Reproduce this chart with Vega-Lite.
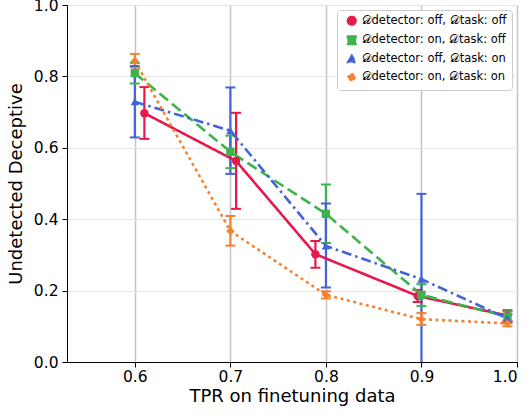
{
  "$schema": "https://vega.github.io/schema/vega-lite/v6.json",
  "autosize": {"type": "none"},
  "padding": {"left": 67, "top": 5, "right": 14, "bottom": 54},
  "width": 450,
  "height": 357,
  "config": {
    "font": "DejaVu Sans",
    "view": {"stroke": null},
    "axis": {
      "domainColor": "black",
      "tickColor": "black",
      "labelColor": "black",
      "titleColor": "black",
      "labelFont": "DejaVu Sans",
      "titleFont": "DejaVu Sans",
      "labelFontSize": 15.5,
      "titleFontSize": 18,
      "titleFontWeight": "normal",
      "tickSize": 5
    },
    "legend": {
      "fillColor": "white",
      "strokeColor": "#cccccc",
      "cornerRadius": 3,
      "padding": 5,
      "rowPadding": 3.5,
      "labelFont": "DejaVu Sans",
      "labelFontSize": 11.5,
      "labelColor": "black",
      "symbolSize": 75,
      "symbolOffset": 4
    }
  },
  "data": {
    "values": [
      {"series": "𝒟detector: off, 𝒟task: off", "tpr": 0.61, "val": 0.697, "lo": 0.625, "hi": 0.77},
      {"series": "𝒟detector: off, 𝒟task: off", "tpr": 0.706, "val": 0.563, "lo": 0.429, "hi": 0.698},
      {"series": "𝒟detector: off, 𝒟task: off", "tpr": 0.789, "val": 0.302, "lo": 0.264, "hi": 0.339},
      {"series": "𝒟detector: off, 𝒟task: off", "tpr": 0.896, "val": 0.185, "lo": 0.168, "hi": 0.202},
      {"series": "𝒟detector: off, 𝒟task: off", "tpr": 0.99, "val": 0.13, "lo": 0.115, "hi": 0.145},
      {"series": "𝒟detector: on, 𝒟task: off", "tpr": 0.6, "val": 0.809, "lo": 0.78, "hi": 0.838},
      {"series": "𝒟detector: on, 𝒟task: off", "tpr": 0.7, "val": 0.589, "lo": 0.543, "hi": 0.634},
      {"series": "𝒟detector: on, 𝒟task: off", "tpr": 0.8, "val": 0.415, "lo": 0.333, "hi": 0.497},
      {"series": "𝒟detector: on, 𝒟task: off", "tpr": 0.9, "val": 0.188, "lo": 0.157, "hi": 0.218},
      {"series": "𝒟detector: on, 𝒟task: off", "tpr": 0.99, "val": 0.127, "lo": 0.112, "hi": 0.142},
      {"series": "𝒟detector: off, 𝒟task: on", "tpr": 0.6, "val": 0.729, "lo": 0.629, "hi": 0.829},
      {"series": "𝒟detector: off, 𝒟task: on", "tpr": 0.7, "val": 0.648, "lo": 0.527, "hi": 0.769},
      {"series": "𝒟detector: off, 𝒟task: on", "tpr": 0.8, "val": 0.325, "lo": 0.209, "hi": 0.444},
      {"series": "𝒟detector: off, 𝒟task: on", "tpr": 0.9, "val": 0.232, "lo": -0.007, "hi": 0.471},
      {"series": "𝒟detector: off, 𝒟task: on", "tpr": 0.99, "val": 0.122, "lo": 0.11, "hi": 0.134},
      {"series": "𝒟detector: on, 𝒟task: on", "tpr": 0.6, "val": 0.843, "lo": 0.825, "hi": 0.863},
      {"series": "𝒟detector: on, 𝒟task: on", "tpr": 0.7, "val": 0.367, "lo": 0.326, "hi": 0.409},
      {"series": "𝒟detector: on, 𝒟task: on", "tpr": 0.8, "val": 0.188, "lo": 0.178, "hi": 0.198},
      {"series": "𝒟detector: on, 𝒟task: on", "tpr": 0.9, "val": 0.12, "lo": 0.104, "hi": 0.137},
      {"series": "𝒟detector: on, 𝒟task: on", "tpr": 0.99, "val": 0.108, "lo": 0.1, "hi": 0.116}
    ]
  },
  "encoding": {
    "x": {
      "field": "tpr",
      "type": "quantitative",
      "title": "TPR on finetuning data",
      "scale": {"domain": [0.529, 1.0], "nice": false, "zero": false},
      "axis": {
        "values": [0.6, 0.7, 0.8, 0.9, 1.0],
        "format": ".1f",
        "gridColor": "#c4c4c4",
        "gridWidth": 1.5,
        "labelPadding": 2,
        "titlePadding": 3
      }
    },
    "color": {
      "field": "series",
      "type": "nominal",
      "title": null,
      "legend": {"orient": "top-right", "offset": 5, "title": null},
      "scale": {
        "domain": ["𝒟detector: off, 𝒟task: off", "𝒟detector: on, 𝒟task: off", "𝒟detector: off, 𝒟task: on", "𝒟detector: on, 𝒟task: on"],
        "range": ["#e6194b", "#3cb44b", "#4363d8", "#f58231"]
      }
    }
  },
  "layer": [
    {
      "mark": {"type": "rule", "strokeWidth": 2.2, "clip": true},
      "encoding": {
        "y": {
          "field": "lo",
          "type": "quantitative",
          "title": "Undetected Deceptive",
          "scale": {"domain": [0, 1], "nice": false},
          "axis": {
            "values": [0, 0.2, 0.4, 0.6, 0.8, 1.0],
            "format": ".1f",
            "gridColor": "#e4e4e4",
            "gridWidth": 1,
            "labelPadding": 4,
            "titlePadding": 8
          }
        },
        "y2": {"field": "hi"}
      }
    },
    {
      "mark": {"type": "tick", "orient": "horizontal", "size": 10, "thickness": 2, "opacity": 1, "clip": true},
      "encoding": {"y": {"field": "lo", "type": "quantitative"}}
    },
    {
      "mark": {"type": "tick", "orient": "horizontal", "size": 10, "thickness": 2, "opacity": 1},
      "encoding": {"y": {"field": "hi", "type": "quantitative"}}
    },
    {
      "mark": {"type": "line", "strokeWidth": 2.6},
      "encoding": {
        "y": {"field": "val", "type": "quantitative"},
        "strokeDash": {
          "field": "series",
          "type": "nominal",
          "legend": {"orient": "top-right", "offset": 5, "title": null},
          "scale": {
            "domain": ["𝒟detector: off, 𝒟task: off", "𝒟detector: on, 𝒟task: off", "𝒟detector: off, 𝒟task: on", "𝒟detector: on, 𝒟task: on"],
            "range": [[1, 0], [11, 5], [10, 4, 2.5, 4], [3, 3.5]]
          }
        }
      }
    },
    {
      "mark": {"type": "point", "filled": true, "opacity": 1, "size": 70},
      "encoding": {
        "y": {"field": "val", "type": "quantitative"},
        "shape": {
          "field": "series",
          "type": "nominal",
          "legend": {"orient": "top-right", "offset": 5, "title": null},
          "scale": {
            "domain": ["𝒟detector: off, 𝒟task: off", "𝒟detector: on, 𝒟task: off", "𝒟detector: off, 𝒟task: on", "𝒟detector: on, 𝒟task: on"],
            "range": ["circle", "square", "triangle-up", "diamond"]
          }
        }
      }
    }
  ]
}
